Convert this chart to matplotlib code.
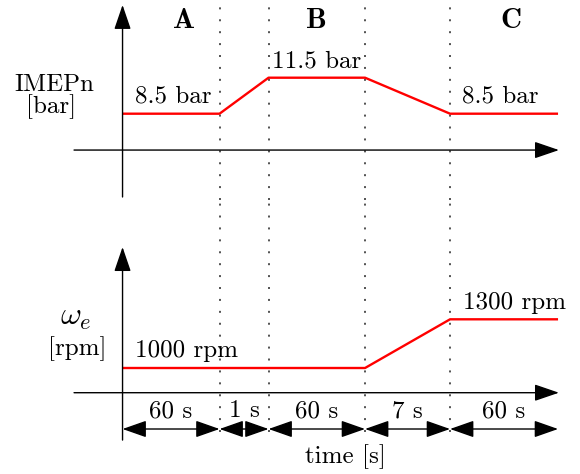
import numpy as np
import matplotlib
matplotlib.use("Agg")
import matplotlib.pyplot as plt

plt.rcParams['font.family'] = ['cmr10', 'DejaVu Serif']
plt.rcParams['mathtext.fontset'] = 'cm'
plt.rcParams['axes.formatter.use_mathtext'] = True

# ---------------- data ----------------
phase_durations = [60, 1, 60, 7, 60]            # s
duration_labels = ['60 s', '1 s', '60 s', '7 s', '60 s']
phase_names = ['A', 'B', 'C']
imep_levels = [8.5, 8.5, 11.5, 11.5, 8.5, 8.5]  # bar, at phase edges
rpm_levels = [1000, 1000, 1000, 1000, 1300, 1300]  # rpm, at phase edges

# ---------------- layout (schematic, not to scale) ----------------
drawn_widths = [97, 49, 96.5, 85, 108]          # drawn width of each phase
t_edges = np.concatenate([[0], np.cumsum(phase_durations)]).astype(float)
pos_edges = np.concatenate([[0], np.cumsum(drawn_widths)]).astype(float)
s0 = (pos_edges[1] - pos_edges[0]) / (t_edges[1] - t_edges[0])
s1 = (pos_edges[-1] - pos_edges[-2]) / (t_edges[-1] - t_edges[-2])


def fwd(t):
    t = np.asarray(t, float)
    y = np.interp(t, t_edges, pos_edges)
    y = np.where(t < t_edges[0], pos_edges[0] + (t - t_edges[0]) * s0, y)
    y = np.where(t > t_edges[-1], pos_edges[-1] + (t - t_edges[-1]) * s1, y)
    return y


def inv(p):
    p = np.asarray(p, float)
    t = np.interp(p, pos_edges, t_edges)
    t = np.where(p < pos_edges[0], t_edges[0] + (p - pos_edges[0]) / s0, t)
    t = np.where(p > pos_edges[-1], t_edges[-1] + (p - pos_edges[-1]) / s1, t)
    return t


W, H = 580, 474
fig = plt.figure(figsize=(W / 100, H / 100), dpi=100)
ax_top = fig.add_axes([0, 274 / H, 1, 200 / H])
ax_bot = fig.add_axes([0, 0, 1, 274 / H])

for ax in (ax_top, ax_bot):
    ax.set_xscale('function', functions=(fwd, inv))
    ax.set_xlim(-75.8, 200.2)
    ax.axis('off')

ax_top.set_ylim(1.308, 17.975)
ax_bot.set_ylim(347, 2035)

t_end = t_edges[-1]
arrow_kw = dict(arrowstyle='-|>,head_length=0.76,head_width=0.26',
                mutation_scale=20, shrinkA=0, shrinkB=0, lw=1.0, color='k')
dbl_kw = dict(arrow_kw, arrowstyle='<|-|>,head_length=0.74,head_width=0.26')

# axes of the schematic
base_top, base_bot = 5.47, 847.8
ax_top.annotate('', xy=(t_end + 0.5, base_top), xytext=(-30, base_top), arrowprops=arrow_kw)
ax_top.annotate('', xy=(0, 17.56), xytext=(0, 1.56), arrowprops=arrow_kw)
ax_bot.annotate('', xy=(t_end + 0.5, base_bot), xytext=(-30, base_bot), arrowprops=arrow_kw)
ax_bot.annotate('', xy=(0, 1745), xytext=(0, 556), arrowprops=arrow_kw)

# dotted phase boundaries
dot_kw = dict(color='#222222', lw=1.1, linestyle=(0, (1.3, 6.5)))
for t in t_edges[1:-1]:
    ax_top.axvline(t, ymin=0, ymax=0.975, **dot_kw)
    ax_bot.axvline(t, ymin=0.153, ymax=1, **dot_kw)

# signals
ax_top.plot(t_edges, imep_levels, color='#ff0000', lw=1.7, solid_capstyle='butt')
ax_bot.plot(t_edges, rpm_levels, color='#ff0000', lw=1.7, solid_capstyle='butt')

# value labels
fs = 18
ax_top.annotate(f'{imep_levels[0]} bar', xy=(t_edges[0], imep_levels[0]), xytext=(9, 8.4),
                textcoords='offset points', ha='left', va='baseline', fontsize=fs)
ax_top.annotate(f'{imep_levels[2]} bar', xy=(t_edges[2], imep_levels[2]), xytext=(2.7, 7),
                textcoords='offset points', ha='left', va='baseline', fontsize=fs)
ax_top.annotate(f'{imep_levels[4]} bar', xy=(t_edges[4], imep_levels[4]), xytext=(8.6, 8.4),
                textcoords='offset points', ha='left', va='baseline', fontsize=fs)
ax_bot.annotate(f'{rpm_levels[0]} rpm', xy=(t_edges[0], rpm_levels[0]), xytext=(9, 8.1),
                textcoords='offset points', ha='left', va='baseline', fontsize=fs)
ax_bot.annotate(f'{rpm_levels[4]} rpm', xy=(t_edges[4], rpm_levels[4]), xytext=(9.4, 7.4),
                textcoords='offset points', ha='left', va='baseline', fontsize=fs)

# duration dimension arrows
dim_y = 624.2
for t0, t1, lab in zip(t_edges[:-1], t_edges[1:], duration_labels):
    ax_bot.annotate('', xy=(t1, dim_y), xytext=(t0, dim_y), arrowprops=dbl_kw)
    ax_bot.annotate(lab, xy=((t0 + t1) / 2, dim_y), xytext=(0, 8.6),
                    textcoords='offset points', ha='center', va='baseline', fontsize=fs)


def px(x, y):
    return x / W, 1 - y / H


fig.text(*px(54, 90.7), 'IMEPn', ha='center', va='baseline', fontsize=fs)
fig.text(*px(51.5, 113), '[bar]', ha='center', va='baseline', fontsize=fs)
fig.text(*px(76, 325), r'$\omega_e$', ha='center', va='baseline', fontsize=23)
fig.text(*px(77, 355), '[rpm]', ha='center', va='baseline', fontsize=fs)
fig.text(*px(345, 463), 'time [s]', ha='center', va='baseline', fontsize=fs)
for name, x in zip(phase_names, [184, 316, 511]):
    fig.text(*px(x, 28.5), name, ha='center', va='baseline', fontsize=21,
             family=['cmb10', 'DejaVu Serif'])

fig.savefig('out.png', dpi=100)
